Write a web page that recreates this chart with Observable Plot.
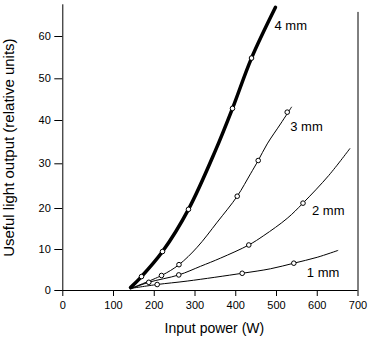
<!DOCTYPE html>
<html><head><meta charset="utf-8">
<script src="https://cdn.jsdelivr.net/npm/d3@7"></script>
<script src="https://cdn.jsdelivr.net/npm/@observablehq/plot@0.6"></script>
<style>body{margin:0;background:#fff}</style>
</head><body><div id="chart"></div>
<script>
// Fitted curves (input power W, useful light output)
const power1mm = [141.7, 207.2, 280.9, 415.8, 485.3, 542.5, 599.9, 650.4];
const output1mm = [0.5, 1.46, 2.3, 4.2, 5.3, 6.66, 8.1, 9.76];
const power2mm = [141.7, 186.6, 260.2, 313.5, 362.6, 432, 468.8, 526.3, 565, 628.3, 679.9];
const output2mm = [0.4, 2.0, 3.8, 5.9, 7.9, 11.1, 13.4, 17.6, 21.2, 27.4, 33.5];
const power3mm = [141.7, 217.8, 260.7, 305.4, 354.5, 403.6, 436.2, 455.1, 477.2, 509.8, 536.8];
const output3mm = [0.5, 3.66, 6.3, 10.56, 16.66, 22.75, 27.76, 30.76, 34.6, 39.2, 43.2];
const power4mm = [141.7, 168.7, 220.2, 284, 350.3, 392, 438.7, 497.5];
const output4mm = [0.7, 3.4, 9.5, 19.8, 33.1, 42.9, 54.9, 66.9];

// Measured points (open circles)
const measPower1mm = [207.2, 415.8, 542.5];
const measOutput1mm = [1.46, 4.2, 6.66];
const measPower2mm = [186.6, 260.2, 432, 565];
const measOutput2mm = [2.0, 3.8, 11.1, 21.2];
const measPower3mm = [217.8, 260.7, 403.6, 455.1, 526.3];
const measOutput3mm = [3.66, 6.3, 22.75, 30.76, 42.0];
const measPower4mm = [168.7, 220.2, 284, 392, 438.7];
const measOutput4mm = [3.4, 9.5, 19.8, 42.9, 54.9];

const seriesNames = ["1 mm", "2 mm", "3 mm", "4 mm"];
const xTicks = [0, 100, 200, 300, 400, 500, 600, 700];
const yTicks = [0, 10, 20, 30, 40, 50, 60];

const curves = [[power1mm, output1mm], [power2mm, output2mm], [power3mm, output3mm], [power4mm, output4mm]];
const meas = [[measPower1mm, measOutput1mm], [measPower2mm, measOutput2mm], [measPower3mm, measOutput3mm], [measPower4mm, measOutput4mm]];

const lineRows = curves.flatMap(([xs, ys], k) => xs.map((x, i) => ({series: seriesNames[k], x, y: ys[i]})));
const dotRows = meas.flatMap(([xs, ys], k) => xs.map((x, i) => ({series: seriesNames[k], x, y: ys[i]})));
// label anchors: last measured point of each series
const labelRows = meas.map(([xs, ys], k) => ({series: seriesNames[k], x: xs[xs.length - 1], y: ys[ys.length - 1]}));
const labelOffsets = {"1 mm": [13, 10], "2 mm": [9, 8], "3 mm": [3, 15], "4 mm": [23, -32]};

const thin = lineRows.filter(d => d.series !== "4 mm");
const thick = lineRows.filter(d => d.series === "4 mm");

const chart = Plot.plot({
  width: 371, height: 340,
  marginLeft: 62.3, marginRight: 13.5, marginTop: 4.3, marginBottom: 50,
  style: {fontFamily: "'Liberation Sans', Arial, sans-serif", background: "white", color: "black"},
  // piecewise linear scales reproducing the original's slightly uneven axis spacing
  x: {type: "linear", domain: [0, 100, 700], range: [62.3, 113, 357.5]},
  y: {type: "linear", domain: [0, 10, 20, 30, 40, 50, 60, 67.5], range: [290, 249, 208, 163.3, 120, 78.3, 36, 4.3]},
  marks: [
    Plot.axisX({ticks: xTicks, tickSize: 6, tickPadding: 5, fontSize: 11, label: null}),
    Plot.axisY({ticks: yTicks, tickSize: 8, tickPadding: 4, fontSize: 11, label: null}),
    Plot.ruleX([0], {stroke: "black"}),
    Plot.ruleY([0], {stroke: "black"}),
    Plot.ruleX([700], {y1: 0, y2: 65.7, stroke: "black"}),
    Plot.line(thin, {x: "x", y: "y", z: "series", curve: "catmull-rom", stroke: "black", strokeWidth: 1}),
    Plot.line(thick, {x: "x", y: "y", curve: "catmull-rom", stroke: "black", strokeWidth: 3.5}),
    Plot.dot(dotRows, {x: "x", y: "y", r: 2.3, fill: "white", stroke: "black", strokeWidth: 1}),
    ...seriesNames.map(s => Plot.text(labelRows.filter(d => d.series === s), {
      x: "x", y: "y", text: "series", textAnchor: "start", fontSize: 13,
      dx: labelOffsets[s][0], dy: labelOffsets[s][1]
    })),
    Plot.text(["Input power (W)"], {frameAnchor: "bottom", lineAnchor: "middle", textAnchor: "middle", dy: 38, dx: 4, fontSize: 14}),
    Plot.text(["Useful light output (relative units)"], {frameAnchor: "left", lineAnchor: "middle", textAnchor: "middle", rotate: -90, dx: -54, fontSize: 15})
  ]
});
document.getElementById("chart").appendChild(chart);
</script>
</body></html>
